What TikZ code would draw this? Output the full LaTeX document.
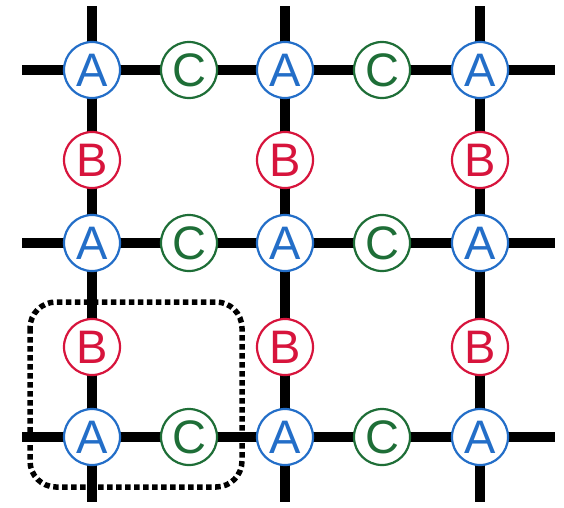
\documentclass[tikz,border=0pt]{standalone}
\usepackage{fontspec}
\setmainfont{Liberation Sans}
\begin{document}
\begin{tikzpicture}[x=1pt,y=-1pt,
  bond/.style={line width=10pt,black},
  site/.style={circle,draw,line width=2.2pt,fill=white,minimum size=56pt,inner sep=0pt,
    font=\fontsize{47}{47}\selectfont},
  siteA/.style={site,draw=siteblue,text=siteblue},
  siteB/.style={site,draw=sitered,text=sitered},
  siteC/.style={site,draw=sitegreen,text=sitegreen},
  cell/.style={line width=5.5pt,dash pattern=on 5.5pt off 3.5pt,rounded corners=26pt}]
\definecolor{siteblue}{RGB}{35,110,200}
\definecolor{sitered}{RGB}{215,20,60}
\definecolor{sitegreen}{RGB}{30,110,55}
\useasboundingbox (0,0) rectangle (564,507);
% lattice bonds
\coordinate (l1) at (22,70);  \coordinate (r1) at (555,70);
\coordinate (l2) at (22,243); \coordinate (r2) at (555,243);
\coordinate (l3) at (22,437); \coordinate (r3) at (555,437);
\coordinate (t1) at (92,6);   \coordinate (b1) at (92,502);
\coordinate (t2) at (285,6);  \coordinate (b2) at (285,502);
\coordinate (t3) at (480,6);  \coordinate (b3) at (480,502);
\draw[bond] (l1) -- (r1) (l2) -- (r2) (l3) -- (r3);
\draw[bond] (t1) -- (b1) (t2) -- (b2) (t3) -- (b3);
% unit cell
\draw[cell] (30,302) rectangle (242,487);
% sites
\foreach \x [count=\i] in {92,285,480}{
  \foreach \y [count=\j] in {70,243,437}{
    \node[siteA] (a\i\j) at (\x,\y) {A};
  }
}
\foreach \x [count=\i] in {92,285,480}{
  \node[siteB] (b\i1) at (\x,160) {B};
  \node[siteB] (b\i2) at (\x,347) {B};
}
\foreach \x [count=\i] in {189,382}{
  \foreach \y [count=\j] in {70,243,437}{
    \node[siteC] (c\i\j) at (\x,\y) {C};
  }
}
\end{tikzpicture}
\end{document}
